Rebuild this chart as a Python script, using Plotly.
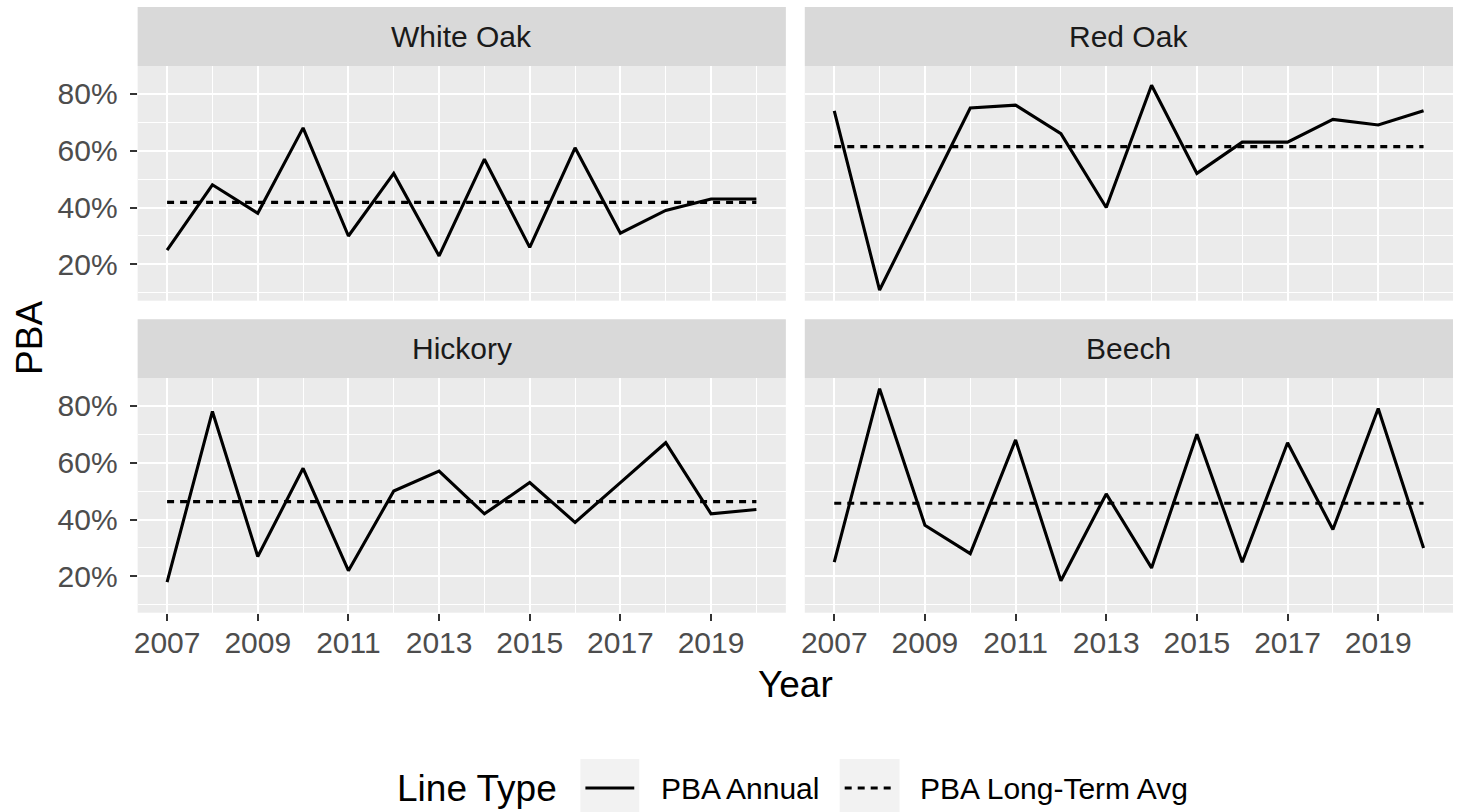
import plotly.graph_objects as go

# ---------------- data ----------------
years = list(range(2007, 2021))
species = ["White Oak", "Red Oak", "Hickory", "Beech"]
white_oak = [25, 48, 38, 68, 30, 52, 23, 57, 26, 61, 31, 39, 43, 43]
red_oak = [74, 11, 43, 75, 76, 66, 40, 83, 52, 63, 63, 71, 69, 74]
hickory = [18, 78, 27, 58, 22, 50, 57, 42, 53, 39, 53, 67, 42, 43.5]
beech = [25, 86, 38, 28, 68, 18.5, 49, 23, 70, 25, 67, 36.5, 79, 30]
long_term_avg = [41.8, 61.4, 46.3, 45.7]
series_names = ["PBA Annual", "PBA Long-Term Avg"]
legend_title = "Line Type"
x_tick_vals = [2007, 2009, 2011, 2013, 2015, 2017, 2019]
y_tick_vals = [20, 40, 60, 80]
annual = [white_oak, red_oak, hickory, beech]

# ---------------- layout helpers ----------------
W, H = 1459, 812
FONT = "Liberation Sans, Arial, sans-serif"
LW = 3.1
DASH = "7px,6px"


def fx(p):
    return p / W


def fy(p):
    return 1 - p / H


panels = [
    dict(x0=134, x1=784, y0=66, y1=300.7, st=7),
    dict(x0=803, x1=1453, y0=66, y1=300.7, st=7),
    dict(x0=134, x1=784, y0=378, y1=612.7, st=319.3),
    dict(x0=803, x1=1453, y0=378, y1=612.7, st=319.3),
]

all_vals = [v for s in annual for v in s] + long_term_avg
lo, hi = min(all_vals), max(all_vals)
ypad = 0.05 * (hi - lo)
yrange = [lo - ypad, hi + ypad]
xpad = 0.05 * (max(years) - min(years))
xrange = [min(years) - xpad, max(years) + xpad]

fig = go.Figure()

for i, (name, vals) in enumerate(zip(species, annual)):
    k = "" if i == 0 else str(i + 1)
    fig.add_trace(go.Scatter(
        x=years, y=vals, mode="lines", name=series_names[0],
        line=dict(color="black", width=LW),
        xaxis="x" + k, yaxis="y" + k,
        legendgroup="a", showlegend=False, hoverinfo="skip"))
    fig.add_trace(go.Scatter(
        x=[years[0], years[-1]], y=[long_term_avg[i]] * 2, mode="lines",
        name=series_names[1],
        line=dict(color="black", width=LW, dash=DASH),
        xaxis="x" + k, yaxis="y" + k,
        legendgroup="b", showlegend=False, hoverinfo="skip"))

shapes = []
annotations = []
layout = {}
for i, p in enumerate(panels):
    k = "" if i == 0 else str(i + 1)
    bottom = i >= 2
    left = i % 2 == 0
    layout["xaxis" + k] = dict(
        domain=[fx(p["x0"]), fx(p["x1"])], anchor="y" + k, range=xrange,
        tickmode="array", tickvals=x_tick_vals,
        showticklabels=bottom, ticks="outside" if bottom else "",
        ticklen=7, tickwidth=2, tickcolor="#333333",
        tickfont=dict(family=FONT, size=30, color="#4d4d4d"),
        ticklabelstandoff=-4,
        showgrid=True, gridcolor="white", gridwidth=2.2,
        minor=dict(tickmode="array", tickvals=[2006, 2008, 2010, 2012, 2014, 2016, 2018, 2020],
                   showgrid=True, gridcolor="white", gridwidth=1.1, ticks=""),
        zeroline=False, showline=False, fixedrange=True)
    layout["yaxis" + k] = dict(
        domain=[fy(p["y1"]), fy(p["y0"])], anchor="x" + k, range=yrange,
        tickmode="array", tickvals=y_tick_vals,
        ticktext=[f"{v}%" for v in y_tick_vals],
        showticklabels=left, ticks="outside" if left else "",
        ticklen=7, tickwidth=2, tickcolor="#333333",
        tickfont=dict(family=FONT, size=30, color="#4d4d4d"),
        ticklabelstandoff=6,
        showgrid=True, gridcolor="white", gridwidth=2.2,
        minor=dict(tickmode="array", tickvals=[10, 30, 50, 70, 90],
                   showgrid=True, gridcolor="white", gridwidth=1.1, ticks=""),
        zeroline=False, showline=False, fixedrange=True)
    # strip
    shapes.append(dict(type="rect", xref="paper", yref="paper",
                       x0=fx(p["x0"]), x1=fx(p["x1"]),
                       y0=fy(p["y0"]), y1=fy(p["st"]),
                       fillcolor="#d9d9d9", line=dict(width=0), layer="below"))
    annotations.append(dict(text=species[i], xref="paper", yref="paper",
                            x=fx((p["x0"] + p["x1"]) / 2),
                            y=fy((p["y0"] + p["st"]) / 2),
                            xanchor="center", yanchor="middle", showarrow=False,
                            font=dict(family=FONT, size=30, color="#1a1a1a")))

# axis titles
annotations.append(dict(text="PBA", xref="paper", yref="paper",
                        x=fx(25), y=fy(338), textangle=-90,
                        xanchor="center", yanchor="middle", showarrow=False,
                        font=dict(family=FONT, size=37, color="black")))
annotations.append(dict(text="Year", xref="paper", yref="paper",
                        x=fx(793.5), y=fy(684),
                        xanchor="center", yanchor="middle", showarrow=False,
                        font=dict(family=FONT, size=37, color="black")))

# ---------------- legend (ggplot-style, bottom) ----------------
LEG_Y = 788
annotations.append(dict(text=legend_title, xref="paper", yref="paper",
                        x=fx(557), y=fy(LEG_Y), xanchor="right", yanchor="middle",
                        showarrow=False,
                        font=dict(family=FONT, size=37, color="black")))
keys = [
    dict(x0=578, x1=637, dash="solid", label_x=657),
    dict(x0=838, x1=898, dash=DASH, label_x=917),
]
for key, label in zip(keys, series_names):
    shapes.append(dict(type="rect", xref="paper", yref="paper",
                       x0=fx(key["x0"]), x1=fx(key["x1"]), y0=fy(818), y1=fy(759),
                       fillcolor="#f2f2f2", line=dict(width=0), layer="below"))
    shapes.append(dict(type="line", xref="paper", yref="paper",
                       x0=fx(key["x0"] + 5), x1=fx(key["x1"] - 5),
                       y0=fy(LEG_Y), y1=fy(LEG_Y),
                       line=dict(color="black", width=LW, dash=key["dash"])))
    annotations.append(dict(text=label, xref="paper", yref="paper",
                            x=fx(key["label_x"]), y=fy(LEG_Y),
                            xanchor="left", yanchor="middle", showarrow=False,
                            font=dict(family=FONT, size=30, color="black")))

fig.update_layout(
    width=W, height=H,
    margin=dict(l=0, r=0, t=0, b=0),
    paper_bgcolor="white", plot_bgcolor="#ebebeb",
    shapes=shapes, annotations=annotations,
    showlegend=False,
    font=dict(family=FONT),
    **layout)

fig.write_html("out.html", config={"displayModeBar": False},
               post_script="document.body.style.margin='0px';")
